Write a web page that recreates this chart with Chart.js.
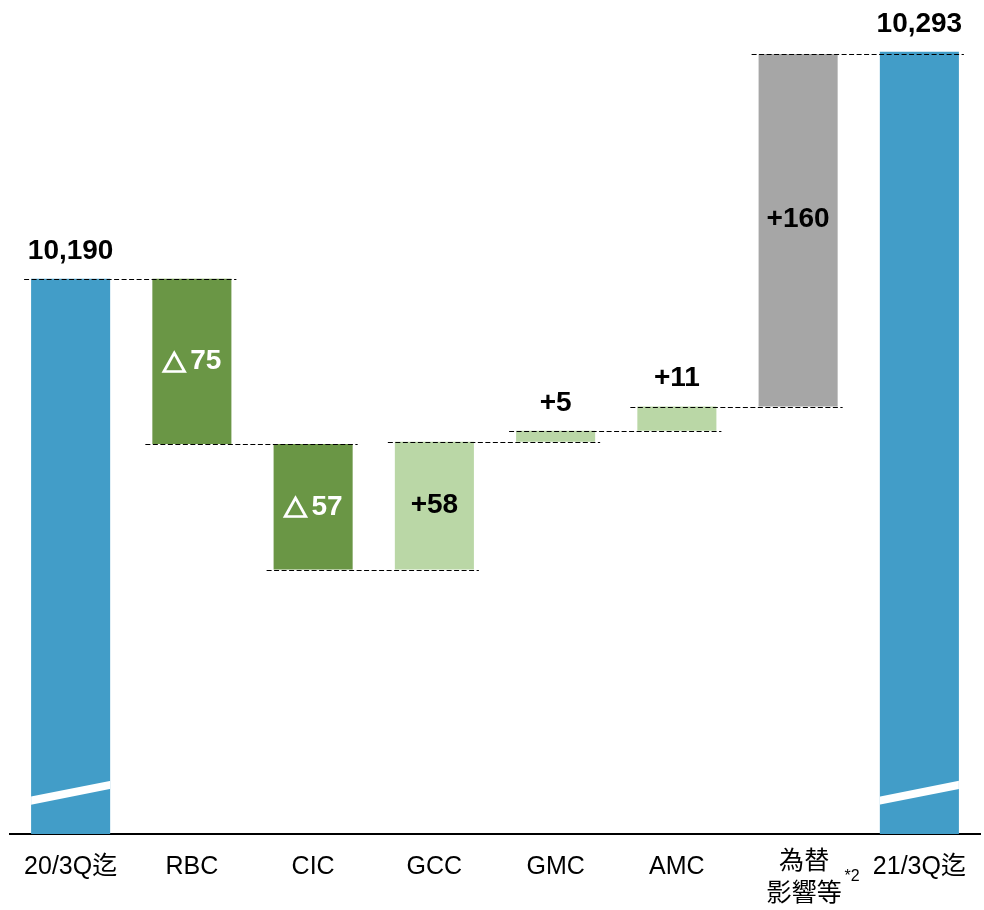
<!DOCTYPE html>
<html>
<head>
<meta charset="utf-8">
<script src="https://cdn.jsdelivr.net/npm/chart.js@4/dist/chart.umd.min.js"></script>
<style>
  html, body { margin: 0; padding: 0; background: #ffffff; }
  #wrap { width: 984px; height: 910px; position: relative; }
</style>
</head>
<body>
<div id="wrap"><canvas id="c" width="984" height="910"></canvas></div>
<script>
// ---- data ----
const categories = ["20/3Q迄", "RBC", "CIC", "GCC", "GMC", "AMC", ["為替", "影響等"], "21/3Q迄"];
const startValue = 10190;
const deltas = [-75, -57, 58, 5, 11, 160];
const endValue = 10293;
const footnoteIndex = 6;
const footnoteText = "*2";

// ---- build floating bars ----
const axisMin = 9938;
const axisMax = 10312;
const ranges = [];
const labels = [];
const kinds = [];
ranges.push([axisMin, startValue]);
labels.push(startValue.toLocaleString("en-US"));
kinds.push("total");
let level = startValue;
const levels = [startValue];
deltas.forEach(d => {
  const next = level + d;
  ranges.push([Math.min(level, next), Math.max(level, next)]);
  labels.push(d < 0 ? "△" + Math.abs(d) : "+" + d);
  kinds.push(d < 0 ? "neg" : "pos");
  level = next;
  levels.push(level);
});
ranges.push([axisMin, endValue]);
labels.push(endValue.toLocaleString("en-US"));
kinds.push("total");

const BLUE = "#429dc8", DKGREEN = "#6a9645", LTGREEN = "#bad7a6", GRAY = "#a6a6a6";
const colors = kinds.map((k, i) => {
  if (k === "total") return BLUE;
  if (i === footnoteIndex) return GRAY;
  return k === "neg" ? DKGREEN : LTGREEN;
});

const LATIN = "'Liberation Sans', 'Noto Sans CJK JP', sans-serif";
const CJK = "'Noto Sans CJK JP', sans-serif";

function drawValueLabel(ctx, text, x, y) {
  const numFont = "bold 28px " + LATIN;
  if (text.startsWith("△")) {
    const triFont = "bold 24px " + CJK;
    const rest = text.slice(1);
    ctx.font = triFont;
    const tw = ctx.measureText("△").width;
    ctx.font = numFont;
    const nw = ctx.measureText(rest).width;
    const gap = 4;
    const total = tw + gap + nw;
    const left = x - total / 2;
    ctx.textAlign = "left";
    ctx.font = triFont;
    ctx.strokeStyle = ctx.fillStyle;
    ctx.lineWidth = 1.6;
    ctx.lineJoin = "miter";
    ctx.fillText("△", left, y + 1);
    ctx.strokeText("△", left, y + 1);
    ctx.font = numFont;
    ctx.fillText(rest, left + tw + gap, y);
  } else {
    ctx.textAlign = "center";
    ctx.font = numFont;
    ctx.fillText(text, x, y);
  }
}

const waterfallPlugin = {
  id: "waterfall",
  afterDatasetsDraw(chart) {
    const ctx = chart.ctx;
    const meta = chart.getDatasetMeta(0);
    const ys = chart.scales.y;
    const bars = meta.data;
    // break marks on total bars
    [0, bars.length - 1].forEach(i => {
      const b = bars[i];
      const l = b.x - b.width / 2, r = b.x + b.width / 2;
      const bottom = chart.chartArea.bottom;
      ctx.save();
      ctx.beginPath();
      ctx.rect(l, chart.chartArea.top, b.width, bottom - chart.chartArea.top + 4);
      ctx.clip();
      ctx.strokeStyle = "#ffffff";
      ctx.lineWidth = 8;
      ctx.beginPath();
      ctx.moveTo(l - 2, bottom - 33);
      ctx.lineTo(r + 2, bottom - 49.5);
      ctx.stroke();
      ctx.restore();
    });
    // connectors
    ctx.save();
    ctx.strokeStyle = "#000000";
    ctx.lineWidth = 1;
    ctx.setLineDash([5, 2.5]);
    for (let i = 0; i < bars.length - 1; i++) {
      const y = Math.round(ys.getPixelForValue(levels[Math.min(i, levels.length - 1)])) + 0.5;
      const a = bars[i], b = bars[i + 1];
      ctx.beginPath();
      ctx.moveTo(a.x - a.width / 2 - 7, y);
      ctx.lineTo(b.x + b.width / 2 + 5, y);
      ctx.stroke();
    }
    ctx.restore();
    // value labels
    ctx.save();
    ctx.textBaseline = "middle";
    bars.forEach((b, i) => {
      const top = Math.min(b.y, b.base);
      const bot = Math.max(b.y, b.base);
      const h = bot - top;
      if (kinds[i] !== "total" && h > 60) {
        ctx.fillStyle = kinds[i] === "neg" ? "#ffffff" : "#000000";
        let cy = (top + bot) / 2;
        if (h > 300) cy -= 11;
        drawValueLabel(ctx, labels[i], b.x, cy);
      } else {
        ctx.fillStyle = "#000000";
        drawValueLabel(ctx, labels[i], b.x, top - 28);
      }
    });
    ctx.restore();
  },
  afterDraw(chart) {
    const ctx = chart.ctx;
    const xs = chart.scales.x;
    ctx.save();
    ctx.fillStyle = "#000000";
    ctx.textAlign = "center";
    ctx.textBaseline = "middle";
    ctx.font = "25px " + LATIN;
    categories.forEach((c, i) => {
      const x = xs.getPixelForValue(i);
      if (Array.isArray(c)) {
        ctx.fillText(c[0], x + 6, 862);
        ctx.fillText(c[1], x + 6, 894);
      } else {
        ctx.fillText(c, x, 867);
      }
    });
    // footnote marker
    const fx = xs.getPixelForValue(footnoteIndex);
    ctx.font = "16px " + LATIN;
    ctx.fillText(footnoteText, fx + 54, 877);
    ctx.restore();
  }
};

new Chart(document.getElementById("c"), {
  type: "bar",
  data: {
    labels: categories,
    datasets: [{
      data: ranges,
      backgroundColor: colors,
      borderWidth: 0,
      categoryPercentage: 1.0,
      barPercentage: 0.652
    }]
  },
  options: {
    responsive: false,
    animation: false,
    layout: { padding: { left: 10, right: 4, top: 10, bottom: 0 } },
    plugins: { legend: { display: false }, tooltip: { enabled: false } },
    scales: {
      x: {
        grid: { display: false },
        ticks: { display: false },
        border: { display: true, color: "#000000", width: 2 },
        afterFit(scale) { scale.height = 76; }
      },
      y: {
        display: false,
        min: axisMin,
        max: axisMax
      }
    }
  },
  plugins: [waterfallPlugin]
});
</script>
</body>
</html>
